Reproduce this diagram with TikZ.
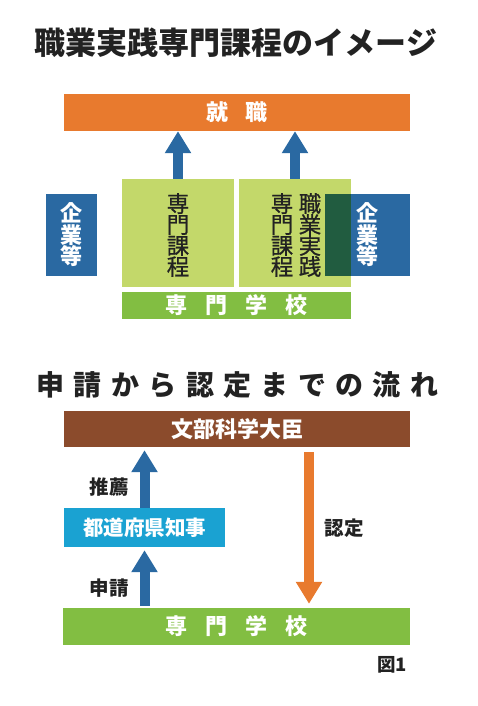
\documentclass[tikz,border=0pt]{standalone}
\usepackage{fontspec}
\newfontfamily\jp{Noto Sans CJK JP}
\definecolor{jporange}{RGB}{232,122,46}
\definecolor{jpblue}{RGB}{42,105,162}
\definecolor{jplime}{RGB}{195,216,106}
\definecolor{jpgreen}{RGB}{130,190,66}
\definecolor{jpdark}{RGB}{33,92,64}
\definecolor{jpbrown}{RGB}{139,75,44}
\definecolor{jpcyan}{RGB}{26,162,210}
\definecolor{jpink}{RGB}{34,34,34}
\usetikzlibrary{arrows.meta,positioning,calc}

\begin{document}
\begin{tikzpicture}[x=1pt, y=-1pt,
  bar/.style={rectangle, inner sep=0pt, text=white, align=center,
              font=\jp\bfseries\fontsize{22}{21.5}\selectfont},
  vtxt/.style={inner sep=0pt, align=center, text=jpink,
               font=\jp\fontsize{22.5}{21}\selectfont\addfontfeature{FakeBold=0.8}},
  lbl/.style={inner sep=0pt, text=jpink, font=\jp\bfseries\fontsize{19.5}{19.5}\selectfont},
  blk/.style={line width=10pt, -{Triangle[length=22pt,width=25pt]}}
]
\useasboundingbox (0,0) rectangle (478,706);

% Upper part
\node[inner sep=0pt, text=jpink, font=\jp\bfseries\fontsize{31}{31}\selectfont] (ttl1) at (236,42.5) {職業実践専門課程のイメージ};

\node[bar, fill=jporange, minimum width=346pt, minimum height=37pt] (shu)  at (237,112.5) {就\hspace{18pt}職};
\node[bar, fill=jplime,   minimum width=112pt, minimum height=108pt] (crs1) at (178,233) {};
\node[bar, fill=jplime,   minimum width=112pt, minimum height=108pt] (crs2) at (295,233) {};
\node[bar, fill=jpblue,   minimum width=51pt,  minimum height=82pt] (kgyL) at (71.5,235) {企\\業\\等};
\node[bar, fill=jpblue,   minimum width=85pt,  minimum height=82pt] (kgyR) at (367.5,235) {企\\業\\等};
\fill[jpdark] (kgyR.north west) rectangle (crs2.east |- kgyR.south);
\node[bar, fill=jpgreen,  minimum width=229pt, minimum height=27pt] (sch1) at (236.5,305.5) {専\hspace{17.7pt}門\hspace{17.7pt}学\hspace{17.7pt}校};

\node[vtxt] (c1)  at (178,235) {専\\門\\課\\程};
\node[vtxt] (c2a) at (282,235) {専\\門\\課\\程};
\node[vtxt] (c2b) at (310,235) {職\\業\\実\\践};

\draw[blk, jpblue] (crs1.north) -- (crs1.north |- shu.south);
\draw[blk, jpblue] (crs2.north) -- (crs2.north |- shu.south);

% Lower part
\node[inner sep=0pt, text=jpink, font=\jp\bfseries\fontsize{28}{28}\selectfont\addfontfeature{LetterSpace=33.5}] (ttl2) at (237.5,384.5) {申請から認定までの流れ};

\node[bar, fill=jpbrown, minimum width=346pt, minimum height=36pt] (mext) at (237,429) {文部科学大臣};
\node[bar, fill=jpcyan,  minimum width=161pt, minimum height=39pt, font=\jp\bfseries\fontsize{20.5}{20.5}\selectfont] (pref) at (144.5,527.5) {都道府県知事};
\node[bar, fill=jpgreen, minimum width=347pt, minimum height=37pt] (sch2) at (236.5,626.5) {専\hspace{17.7pt}門\hspace{17.7pt}学\hspace{17.7pt}校};

\draw[blk, jpblue, shorten >=3pt] (pref.north) -- (pref.north |- mext.south);
\draw[blk, jpblue, shorten <=2pt, shorten >=3pt] (sch2.north -| pref) -- (pref.south);
\draw[blk, jporange, shorten <=5pt, shorten >=4pt] ([xshift=72pt]mext.south) -- ([xshift=72pt]mext.south |- sch2.north);

\node[lbl] (rec)  at (109,487) {推薦};
\node[lbl] (app)  at (109,588) {申請};
\node[lbl] (cert) at (344,528) {認定};
\node[lbl, font=\jp\bfseries\fontsize{18.5}{18.5}\selectfont] (fig) at (392,665) {図1};
\end{tikzpicture}
\end{document}
